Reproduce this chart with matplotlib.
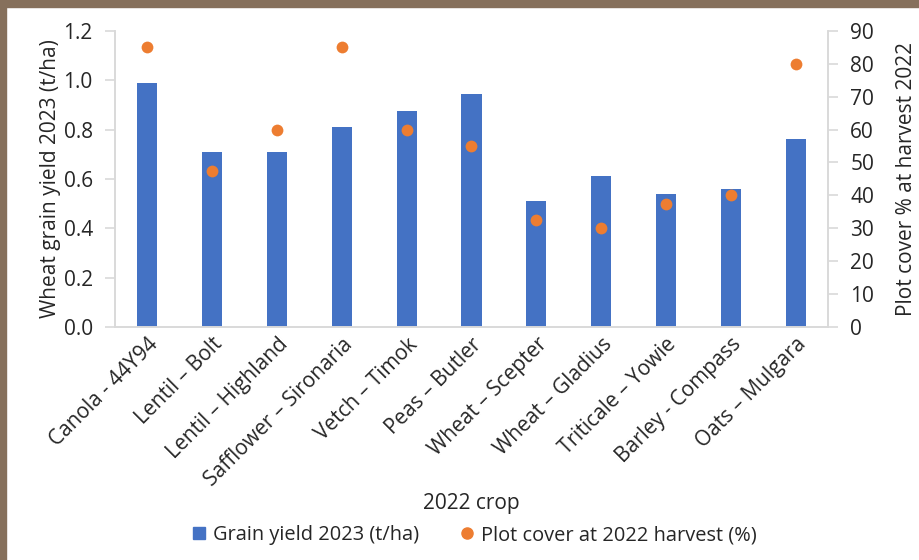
import matplotlib.pyplot as plt
from matplotlib.lines import Line2D
from matplotlib.patches import Rectangle

# data
crops = ["Canola - 44Y94", "Lentil \u2013 Bolt", "Lentil \u2013 Highland",
         "Safflower \u2013 Sironaria", "Vetch \u2013 Timok", "Peas \u2013 Butler",
         "Wheat \u2013 Scepter", "Wheat \u2013 Gladius", "Triticale \u2013 Yowie",
         "Barley - Compass", "Oats \u2013 Mulgara"]
grain_yield = [0.99, 0.71, 0.71, 0.81, 0.875, 0.945, 0.51, 0.61, 0.54, 0.56, 0.76]
plot_cover = [85, 47.5, 60, 85, 60, 55, 32.5, 30, 37.5, 40, 80]

BLUE = "#4472C4"
ORANGE = "#ED7D31"
AXIS_GREY = "#D9D9D9"
TEXT = "#262626"

plt.rcParams['font.family'] = ['Open Sans', 'DejaVu Sans']
plt.rcParams['font.size'] = 15

fig = plt.figure(figsize=(9.2, 5.6), dpi=100)

# brown frame at top and left edge
fig.patches.append(Rectangle((0, 1 - 7 / 560), 1, 7 / 560, transform=fig.transFigure,
                             color="#86705C", zorder=0))
fig.patches.append(Rectangle((0, 0), 6 / 920, 1, transform=fig.transFigure,
                             color="#86705C", zorder=0))

ax = fig.add_axes([0.125, 0.416, 0.775, 0.529])
x = range(len(crops))
ax.bar(x, grain_yield, width=0.31, color=BLUE, zorder=2)
ax.set_xlim(-0.5, len(crops) - 0.5)
ax.set_ylim(0, 1.2)
ax.set_yticks([0, 0.2, 0.4, 0.6, 0.8, 1.0, 1.2])
ax.set_yticklabels([f"{v:.1f}" for v in ax.get_yticks()])
ax.set_xticks(list(x))
ax.set_xticklabels(crops, rotation=45, ha='right', rotation_mode='anchor', color=TEXT)
ax.set_ylabel("Wheat grain yield 2023 (t/ha)", color=TEXT, labelpad=2)
ax.set_xlabel("2022 crop", color=TEXT, labelpad=2)

ax2 = ax.twinx()
ax2.scatter(x, plot_cover, s=72, color=ORANGE, zorder=3, linewidths=0)
ax2.set_ylim(0, 90)
ax2.set_yticks(range(0, 91, 10))
ax2.set_ylabel("Plot cover % at harvest 2022", color=TEXT, labelpad=16)

for a in (ax, ax2):
    a.spines["top"].set_visible(False)
    for side in ("left", "right", "bottom"):
        a.spines[side].set_color(AXIS_GREY)
        a.spines[side].set_linewidth(1.2)
    a.tick_params(axis='y', colors=AXIS_GREY, labelcolor=TEXT, length=7, width=1.2, pad=9)
ax.tick_params(axis='x', length=0, pad=5)

handles = [Line2D([], [], marker='s', linestyle='none', markersize=9, color=BLUE),
           Line2D([], [], marker='o', linestyle='none', markersize=8, color=ORANGE)]
fig.legend(handles, ["Grain yield 2023 (t/ha)", "Plot cover at 2022 harvest (%)"],
           loc='center', bbox_to_anchor=(0.515, 0.044), ncol=2, frameon=False,
           fontsize=14.4, handlelength=0.8, handletextpad=0.3, columnspacing=2.0,
           labelcolor=TEXT)

fig.savefig("out.png", dpi=100, facecolor="white")
